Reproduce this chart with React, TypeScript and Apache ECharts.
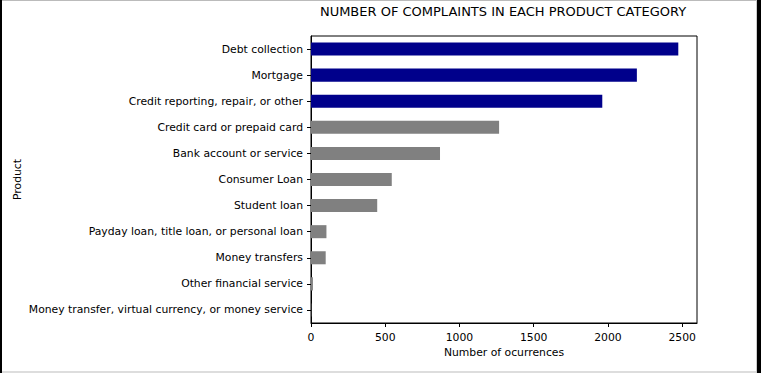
import React, { useEffect, useRef } from "react";
import * as echarts from "echarts";

const categories = [
  "Money transfer, virtual currency, or money service",
  "Other financial service",
  "Money transfers",
  "Payday loan, title loan, or personal loan",
  "Student loan",
  "Consumer Loan",
  "Bank account or service",
  "Credit card or prepaid card",
  "Credit reporting, repair, or other",
  "Mortgage",
  "Debt collection",
];
const occurrences = [2, 13, 99, 104, 446, 544, 869, 1267, 1962, 2195, 2474];
const highlighted = [false, false, false, false, false, false, false, false, true, true, true];
const xTicks = [0, 500, 1000, 1500, 2000, 2500];

const FONT = "DejaVu Sans";

export default function App() {
  const ref = useRef<HTMLDivElement>(null);
  useEffect(() => {
    const chart = echarts.init(ref.current!, null, { renderer: "svg" });
    chart.setOption({
      animation: false,
      backgroundColor: "#ffffff",
      textStyle: { fontFamily: FONT, color: "#000" },
      title: {
        text: "NUMBER OF COMPLAINTS IN EACH PRODUCT CATEGORY",
        left: 498,
        textAlign: "center",
        top: 0,
        textStyle: { fontFamily: FONT, fontSize: 13, fontWeight: "normal", color: "#000" },
      },
      grid: {
        left: 311,
        top: 36,
        right: 64,
        bottom: 50,
        containLabel: false,
        outerBoundsMode: "none",
        show: true,
        borderColor: "#000",
        borderWidth: 1,
        backgroundColor: "transparent",
      },
      xAxis: {
        type: "value",
        min: 0,
        max: 2600,
        interval: 500,
        name: "Number of ocurrences",
        nameLocation: "middle",
        nameGap: 24,
        nameMoveOverlap: false,
        nameTextStyle: { fontFamily: FONT, fontSize: 10.8, color: "#000" },
        splitLine: { show: false },
        axisLine: { show: true, lineStyle: { color: "#000", width: 1 } },
        axisTick: { show: true, length: 4, lineStyle: { color: "#000" }, customValues: xTicks },
        axisLabel: {
          fontFamily: FONT,
          fontSize: 10.8,
          color: "#000",
          margin: 9,
          customValues: xTicks,
          formatter: (v: number) => String(v),
        },
      },
      yAxis: {
        type: "category",
        data: categories,
        name: "Product",
        nameLocation: "middle",
        nameGap: 288,
        nameMoveOverlap: false,
        nameRotate: 90,
        nameTextStyle: { fontFamily: FONT, fontSize: 10.8, color: "#000" },
        axisLine: { show: true, lineStyle: { color: "#000", width: 1 } },
        axisTick: { show: true, length: 4, alignWithLabel: true, lineStyle: { color: "#000" } },
        axisLabel: { fontFamily: FONT, fontSize: 10.8, color: "#000", margin: 8 },
      },
      series: [
        {
          type: "bar",
          barWidth: "50%",
          data: occurrences.map((v, i) => ({
            value: v,
            itemStyle: { color: highlighted[i] ? "#00008b" : "#808080" },
          })),
        },
      ],
      graphic: [
        { type: "rect", shape: { x: 0, y: 0, width: 761, height: 1 }, style: { fill: "#bbbbbb" }, silent: true },
        { type: "rect", shape: { x: 0, y: 371, width: 761, height: 2 }, style: { fill: "#dddddd" }, silent: true },
        { type: "rect", shape: { x: 756, y: 0, width: 1, height: 373 }, style: { fill: "#cccccc" }, silent: true },
        { type: "rect", shape: { x: 0, y: 0, width: 2, height: 373 }, style: { fill: "#000000" }, silent: true },
        { type: "rect", shape: { x: 757, y: 0, width: 4, height: 373 }, style: { fill: "#000000" }, silent: true },
      ],
    });
    return () => chart.dispose();
  }, []);
  return (
    <div
      ref={ref}
      style={{ position: "absolute", left: 0, top: 0, width: 761, height: 373 }}
    />
  );
}
